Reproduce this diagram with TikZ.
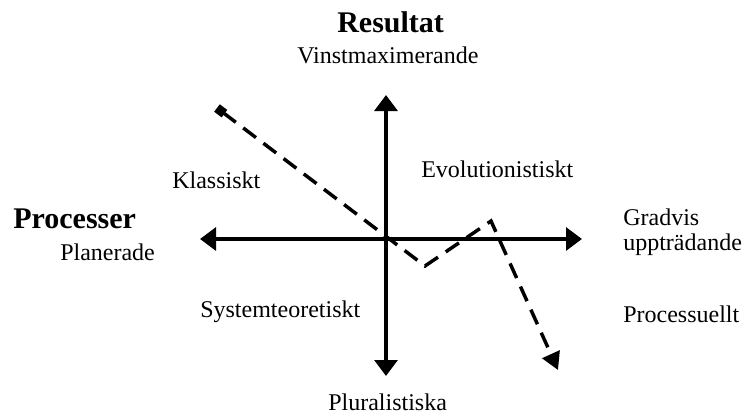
\documentclass[tikz,border=0pt]{standalone}
\usepackage{fontspec}
\setmainfont{Liberation Serif}
\usetikzlibrary{arrows.meta,positioning}
\tikzset{
  axis/.style={line width=3pt, {Triangle[length=12pt,width=17pt]}-{Triangle[length=12pt,width=17pt]}},
  pathline/.style={line width=2.6pt, dash pattern=on 12pt off 7pt,
                   {Square[length=7pt,width=7pt]}-{Triangle[length=13pt,width=14pt]}},
  lbl/.style={anchor=base west, inner sep=0pt, font=\fontsize{18}{21}\selectfont},
  head/.style={anchor=base west, inner sep=0pt, font=\fontsize{22.5}{26}\selectfont\bfseries},
}
\begin{document}
\begin{tikzpicture}[x=0.75pt, y=-0.75pt]
  \useasboundingbox (0,0) rectangle (748,415);
  % Axis ends
  \coordinate (O) at (386,239);
  \coordinate (W) at (200,239);
  \coordinate (E) at (582,239);
  \coordinate (N) at (386,95);
  \coordinate (S) at (386,376);
  % Axes
  \draw[axis] (W) -- (E);
  \draw[axis] (S) -- (N);

  % Dashed path
  \coordinate (p0) at (217,108);
  \coordinate (p1) at (425,266);
  \coordinate (p2) at (491,221);
  \coordinate (p3) at (558,370);
  \draw[pathline] (p0) -- (p1) -- (p2) -- (p3);

  % Headings
  \node[head] (res) at (337,32) {Resultat};
  \node[lbl] (vinst) at (297,63) {Vinstmaximerande};
  \node[head] (proc) at (13,228) {Processer};
  \node[lbl] (plan) at (60,260) {Planerade};
  % Quadrant labels
  \node[lbl] (klass) at (172,188) {Klassiskt};
  \node[lbl] (evol) at (421,177) {Evolutionistiskt};
  \node[lbl] (sys) at (200,317) {Systemteoretiskt};
  \node[lbl] (procu) at (623,322) {Processuellt};
  % Axis labels
  \node[lbl] (grad) at (623,225) {Gradvis};
  \node[lbl] (uppt) at (623,250) {uppträdande};
  \node[lbl] (plur) at (328,410) {Pluralistiska};
\end{tikzpicture}
\end{document}
